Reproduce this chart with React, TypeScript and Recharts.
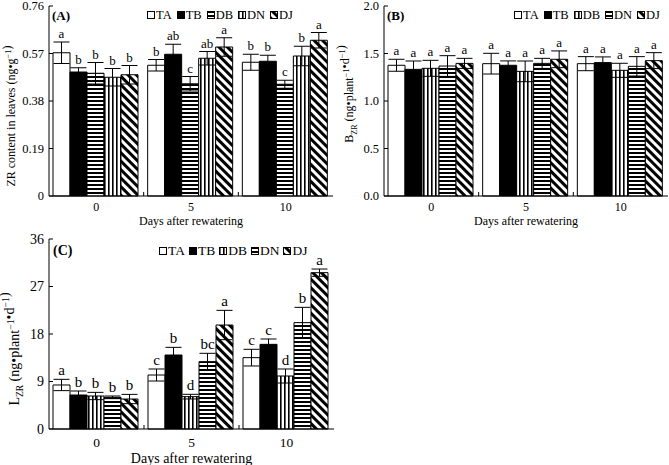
import { Bar, BarChart, ErrorBar, LabelList, XAxis, YAxis } from "recharts";

const FONT = '"Liberation Serif", "Times New Roman", serif';

const days = ["0", "5", "10"];
const groups = ["TA", "TB", "DB", "DN", "DJ"];

// (A) ZR content in leaves, one row per group, columns = days 0 / 5 / 10
const zrMean = [
  [0.573, 0.523, 0.535],
  [0.496, 0.567, 0.539],
  [0.491, 0.449, 0.447],
  [0.475, 0.551, 0.56],
  [0.485, 0.596, 0.623]
];
const zrErr = [
  [0.043, 0.023, 0.032],
  [0.017, 0.04, 0.024],
  [0.043, 0.029, 0.016],
  [0.035, 0.027, 0.039],
  [0.037, 0.037, 0.031]
];
const zrSig = [
  ["a", "b", "b"],
  ["b", "ab", "b"],
  ["b", "c", "c"],
  ["b", "ab", "b"],
  ["b", "a", "a"]
];
const zrTicks = [0, 0.19, 0.38, 0.57, 0.76];
const zrTickLabels = ["0", "0.19", "0.38", "0.57", "0.76"];

// (B) B_ZR
const bMean = [
  [1.376, 1.393, 1.393],
  [1.333, 1.376, 1.404],
  [1.344, 1.312, 1.323],
  [1.368, 1.396, 1.365],
  [1.396, 1.439, 1.425]
];
const bErr = [
  [0.063, 0.109, 0.074],
  [0.088, 0.046, 0.06],
  [0.084, 0.109, 0.074],
  [0.109, 0.053, 0.102],
  [0.053, 0.088, 0.084]
];
const bSig = [
  ["a", "a", "a"],
  ["a", "a", "a"],
  ["a", "a", "a"],
  ["a", "a", "a"],
  ["a", "a", "a"]
];
const bTicks = [0, 0.5, 1, 1.5, 2];
const bTickLabels = ["0.0", "0.5", "1.0", "1.5", "2.0"];

// (C) L_ZR
const lMean = [
  [8.34, 10.23, 13.52],
  [6.44, 14.02, 16.04],
  [6.25, 6.13, 10.04],
  [6.0, 12.76, 20.15],
  [5.68, 19.7, 29.62]
];
const lErr = [
  [1.07, 1.14, 1.58],
  [0.76, 1.45, 1.01],
  [0.69, 0.44, 1.33],
  [0.25, 1.58, 2.9],
  [0.88, 2.78, 0.69]
];
const lSig = [
  ["a", "c", "c"],
  ["b", "b", "c"],
  ["b", "d", "d"],
  ["b", "bc", "b"],
  ["b", "a", "a"]
];
const lTicks = [0, 9, 18, 27, 36];
const lTickLabels = ["0", "9", "18", "27", "36"];

// panel A swaps the DB/DN stripe direction compared with B and C
const fillsA = ["#fff", "#000", "url(#pat-h)", "url(#pat-v)", "url(#pat-d)"];
const fillsBC = ["#fff", "#000", "url(#pat-v)", "url(#pat-h)", "url(#pat-d)"];

const TICK_GAP = 5;

function buildRows(means: number[][], errs: number[][], sigs: string[][]) {
  return days.map((day, i) => {
    const row: Record<string, string | number> = { day };
    groups.forEach((g, k) => {
      row[g] = means[k][i];
      row[`${g}Err`] = errs[k][i];
      row[`${g}Sig`] = sigs[k][i];
    });
    return row;
  });
}

function Patterns() {
  return (
    <svg width={0} height={0} style={{ position: "absolute" }}>
      <defs>
        <pattern id="pat-h" width={4} height={4} patternUnits="userSpaceOnUse">
          <rect width={4} height={4} fill="#fff" />
          <rect width={4} height={2} fill="#000" />
        </pattern>
        <pattern id="pat-v" width={4} height={4} patternUnits="userSpaceOnUse">
          <rect width={4} height={4} fill="#fff" />
          <rect width={1.6} height={4} fill="#000" />
        </pattern>
        <pattern id="pat-d" width={6} height={6} patternUnits="userSpaceOnUse" patternTransform="rotate(-45)">
          <rect width={6} height={6} fill="#fff" />
          <rect width={3} height={6} fill="#000" />
        </pattern>
      </defs>
    </svg>
  );
}

interface PanelProps {
  means: number[][];
  errs: number[][];
  sigs: string[][];
  yMax: number;
  yTicks: number[];
  yTickLabels: string[];
  fills: string[];
  width: number;
  height: number;
  margin: { top: number; right: number; bottom: number; left: number };
  xAxisHeight: number;
  xTickGap: number;
  xTitleLift: number;
  tickSize: number;
  xTickSize: number;
  titleSize: number;
  sigSize: number;
  yTitle: React.ReactNode;
  yTitleX: number;
  yTitleY: number;
}

function Panel(p: PanelProps) {
  const rows = buildRows(p.means, p.errs, p.sigs);
  const plotWidth = p.width - p.margin.left - p.margin.right - 49;
  const band = plotWidth / days.length;

  const yTick = (props: any) => {
    const idx = p.yTicks.indexOf(props.payload.value);
    const axisX = props.x + TICK_GAP;
    return (
      <g>
        <text x={props.x} y={props.y} dy="0.35em" textAnchor="end" fontSize={p.tickSize} fontFamily={FONT} fill="#000">
          {p.yTickLabels[idx]}
        </text>
        <line x1={axisX} x2={axisX + 4} y1={props.y} y2={props.y} stroke="#000" />
      </g>
    );
  };

  const xTick = (props: any) => {
    const axisY = props.y - p.xTickGap;
    const bx = props.x - band / 2;
    return (
      <g>
        <text x={props.x} y={props.y} dy="0.71em" textAnchor="middle" fontSize={p.xTickSize} fontFamily={FONT} fill="#000">
          {props.payload.value}
        </text>
        {props.index > 0 && <line x1={bx} x2={bx} y1={axisY} y2={axisY - 4} stroke="#000" />}
      </g>
    );
  };

  const xTitle = (props: any) => {
    const vb = props.viewBox;
    return (
      <text
        x={vb.x + vb.width / 2}
        y={vb.y + vb.height - p.xTitleLift}
        textAnchor="middle"
        fontSize={p.titleSize}
        fontFamily={FONT}
        fill="#000"
      >
        Days after rewatering
      </text>
    );
  };

  const yTitle = () => (
    <text
      transform={`translate(${p.yTitleX},${p.yTitleY}) rotate(-90)`}
      textAnchor="middle"
      fontSize={p.titleSize}
      fontFamily={FONT}
      fill="#000"
    >
      {p.yTitle}
    </text>
  );

  const sigLabel = (k: number) => (props: any) => {
    const vb = props.viewBox ?? props;
    const i = props.index;
    const errPx = (p.errs[k][i] * vb.height) / p.means[k][i];
    return (
      <text x={vb.x + vb.width / 2} y={vb.y - errPx - 4} textAnchor="middle" fontSize={p.sigSize} fontFamily={FONT} fill="#000">
        {props.value}
      </text>
    );
  };

  return (
    <BarChart width={p.width} height={p.height} data={rows} margin={p.margin} barCategoryGap={4} barGap={0}>
      <XAxis
        dataKey="day"
        height={p.xAxisHeight}
        axisLine={{ stroke: "#000" }}
        tickLine={false}
        tickSize={0}
        tickMargin={p.xTickGap}
        tick={xTick}
        interval={0}
        label={xTitle}
      />
      <XAxis xAxisId="top" dataKey="day" orientation="top" height={0} axisLine={{ stroke: "#000" }} tick={false} tickLine={false} />
      <YAxis
        domain={[0, p.yMax]}
        ticks={p.yTicks}
        width={49}
        axisLine={{ stroke: "#000" }}
        tickLine={false}
        tickSize={0}
        tickMargin={TICK_GAP}
        tick={yTick}
        interval={0}
        label={yTitle}
      />
      <YAxis yAxisId="right" orientation="right" width={0} domain={[0, p.yMax]} axisLine={{ stroke: "#000" }} tick={false} tickLine={false} />
      {groups.map((g, k) => (
        <Bar key={g} dataKey={g} fill={p.fills[k]} stroke="#000" strokeWidth={1} isAnimationActive={false}>
          <ErrorBar dataKey={`${g}Err`} width={8} stroke="#000" strokeWidth={1} direction="y" />
          <LabelList dataKey={`${g}Sig`} content={sigLabel(k)} />
        </Bar>
      ))}
    </BarChart>
  );
}

function LegendRow({ fills, fontSize, gap }: { fills: string[]; fontSize: number; gap: number }) {
  return (
    <div style={{ display: "flex", alignItems: "center", fontFamily: FONT, fontSize, color: "#000", lineHeight: 1, whiteSpace: "nowrap" }}>
      {groups.map((g, k) => (
        <span key={g} style={{ display: "flex", alignItems: "center", marginRight: k < groups.length - 1 ? gap : 0 }}>
          <svg width={8} height={8} style={{ marginRight: 1 }}>
            <rect x={0.5} y={0.5} width={7} height={7} fill={fills[k]} stroke="#000" />
          </svg>
          {g}
        </span>
      ))}
    </div>
  );
}

const sup = (t: string, fs: number) => (
  <>
    <tspan dy={-fs * 0.35} fontSize={fs * 0.7}>
      {t}
    </tspan>
    <tspan dy={fs * 0.35}>{""}</tspan>
  </>
);

export default function App() {
  const fsA = 12;
  const fsC = 14;
  return (
    <div style={{ position: "absolute", left: 0, top: 0, width: 669, height: 465, background: "#fff", fontFamily: FONT, overflow: "hidden" }}>
      <Patterns />

      <div style={{ position: "absolute", left: 0, top: 0, width: 340, height: 228 }}>
        <Panel
          means={zrMean}
          errs={zrErr}
          sigs={zrSig}
          yMax={0.76}
          yTicks={zrTicks}
          yTickLabels={zrTickLabels}
          fills={fillsA}
          width={340}
          height={228}
          margin={{ top: 6, right: 7, bottom: 0, left: 0 }}
          xAxisHeight={32}
          xTickGap={6}
          xTitleLift={3}
          tickSize={12.5}
          xTickSize={12}
          titleSize={fsA}
          sigSize={13}
          yTitle={<>ZR content in leaves (ng•g{sup("−1", fsA)})</>}
          yTitleX={15}
          yTitleY={116}
        />
        <div style={{ position: "absolute", left: 52, top: 8, fontFamily: FONT, fontSize: 13, fontWeight: "bold" }}>(A)</div>
        <div style={{ position: "absolute", left: 147, top: 9 }}>
          <LegendRow fills={fillsA} fontSize={12.5} gap={5} />
        </div>
      </div>

      <div style={{ position: "absolute", left: 335, top: 0, width: 334, height: 228 }}>
        <Panel
          means={bMean}
          errs={bErr}
          sigs={bSig}
          yMax={2}
          yTicks={bTicks}
          yTickLabels={bTickLabels}
          fills={fillsBC}
          width={334}
          height={228}
          margin={{ top: 6, right: 1, bottom: 0, left: 0 }}
          xAxisHeight={32}
          xTickGap={6}
          xTitleLift={3}
          tickSize={12.5}
          xTickSize={12}
          titleSize={fsA}
          sigSize={13}
          yTitle={
            <>
              B
              <tspan dy={4} fontSize={8}>
                ZR
              </tspan>
              <tspan dy={-4}> (ng•plant</tspan>
              {sup("−1", fsA)}•d{sup("−1", fsA)})
            </>
          }
          yTitleX={18}
          yTitleY={94}
        />
        <div style={{ position: "absolute", left: 52, top: 8, fontFamily: FONT, fontSize: 13, fontWeight: "bold" }}>(B)</div>
        <div style={{ position: "absolute", right: 9, top: 9 }}>
          <LegendRow fills={fillsBC} fontSize={12.5} gap={5} />
        </div>
      </div>

      <div style={{ position: "absolute", left: 0, top: 225, width: 340, height: 240 }}>
        <Panel
          means={lMean}
          errs={lErr}
          sigs={lSig}
          yMax={36}
          yTicks={lTicks}
          yTickLabels={lTickLabels}
          fills={fillsBC}
          width={340}
          height={240}
          margin={{ top: 14, right: 6, bottom: 0, left: 0 }}
          xAxisHeight={36}
          xTickGap={8}
          xTitleLift={2.5}
          tickSize={14}
          xTickSize={13.5}
          titleSize={fsC}
          sigSize={15}
          yTitle={
            <>
              L
              <tspan dy={4} fontSize={9.5}>
                ZR
              </tspan>
              <tspan dy={-4}> (ng•plant</tspan>
              {sup("−1", fsC)}•d{sup("−1", fsC)})
            </>
          }
          yTitleX={18.5}
          yTitleY={124}
        />
        <div style={{ position: "absolute", left: 53, top: 18, fontFamily: FONT, fontSize: 14, fontWeight: "bold" }}>(C)</div>
        <div style={{ position: "absolute", left: 159, top: 19 }}>
          <LegendRow fills={fillsBC} fontSize={13.5} gap={4} />
        </div>
      </div>
    </div>
  );
}
